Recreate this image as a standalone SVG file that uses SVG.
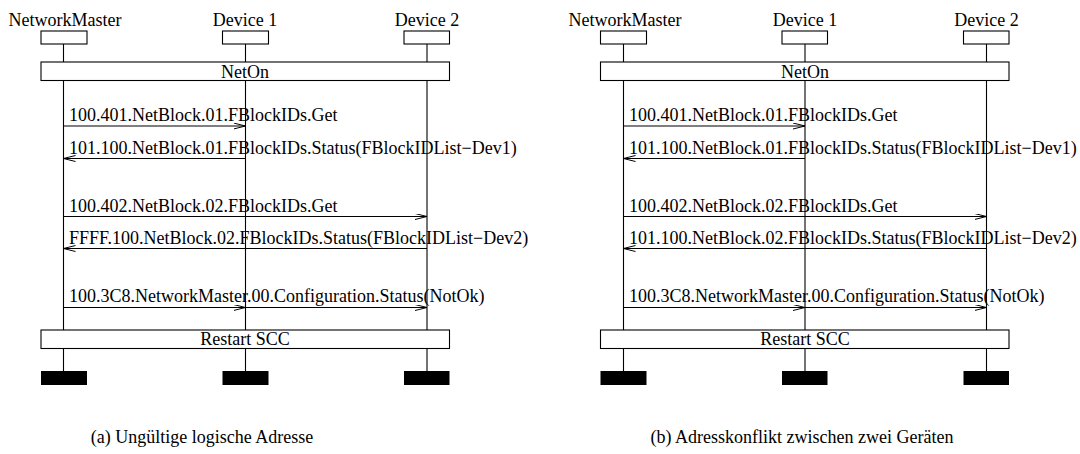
<svg xmlns="http://www.w3.org/2000/svg" width="1080" height="454" viewBox="0 0 1080 454">
<style>
  .lbl { font-family: "Liberation Serif", "Times New Roman", serif; font-size: 18px; fill: #000; }
  .mid { text-anchor: middle; }
  .cap { font-family: "Liberation Serif", "Times New Roman", serif; font-size: 18px; fill: #000; text-anchor: middle; }
  .head { fill: #fff; stroke: #000; stroke-width: 1.1; }
  .bar { fill: #fff; stroke: #000; stroke-width: 1.1; }
  .end { fill: #000; stroke: none; }
  .life { stroke: #000; stroke-width: 1.1; fill: none; }
  .msg { stroke: #000; stroke-width: 1.1; fill: none; marker-end: url(#arr); }
</style>
<defs>
  <marker id="arr" markerUnits="userSpaceOnUse" markerWidth="14" markerHeight="8" refX="12" refY="3" orient="auto">
    <path d="M0,0 L12,3 L0,6" fill="none" stroke="#000" stroke-width="1"/>
  </marker>
</defs>

<!-- ===== Diagram (a) ===== -->
<g id="diagram-a">
  <g id="a-lifelines">
    <line class="life" x1="63.5" y1="44" x2="63.5" y2="371"/>
    <line class="life" x1="245.5" y1="44" x2="245.5" y2="371"/>
    <line class="life" x1="427" y1="44" x2="427" y2="371"/>
  </g>
  <g id="a-networkmaster">
    <text class="lbl mid" x="65" y="25.5">NetworkMaster</text>
    <rect class="head" x="41" y="31" width="46" height="13"/>
    <rect class="end" x="41" y="371" width="46" height="14"/>
  </g>
  <g id="a-device1">
    <text class="lbl mid" x="245" y="25.5">Device 1</text>
    <rect class="head" x="222.5" y="31" width="46" height="13"/>
    <rect class="end" x="222.5" y="371" width="46" height="14"/>
  </g>
  <g id="a-device2">
    <text class="lbl mid" x="427" y="25.5">Device 2</text>
    <rect class="head" x="404" y="31" width="45.5" height="13"/>
    <rect class="end" x="404" y="371" width="45.5" height="14"/>
  </g>
  <g id="a-neton">
    <rect class="bar" x="41" y="62" width="408.5" height="18.5"/>
    <text class="lbl mid" x="245" y="77.5">NetOn</text>
  </g>
  <g id="a-restart">
    <rect class="bar" x="41" y="330" width="408.5" height="18.5"/>
    <text class="lbl mid" x="245" y="345">Restart SCC</text>
  </g>
  <g id="a-connectors">
    <line class="msg" x1="63.5" y1="126" x2="245.5" y2="126"/>
    <line class="msg" x1="245.5" y1="158.5" x2="63.5" y2="158.5"/>
    <line class="msg" x1="63.5" y1="216.5" x2="427" y2="216.5"/>
    <line class="msg" x1="427" y1="248.5" x2="63.5" y2="248.5"/>
    <line class="msg" x1="63.5" y1="307.5" x2="245.5" y2="307.5"/>
    <line class="msg" x1="63.5" y1="307.5" x2="427" y2="307.5"/>
  </g>
  <g id="a-labels">
    <text class="lbl" x="69" y="121">100.401.NetBlock.01.FBlockIDs.Get</text>
    <text class="lbl" x="69" y="153.5">101.100.NetBlock.01.FBlockIDs.Status(FBlockIDList−Dev1)</text>
    <text class="lbl" x="69" y="211.5">100.402.NetBlock.02.FBlockIDs.Get</text>
    <text class="lbl" x="69" y="243.5">FFFF.100.NetBlock.02.FBlockIDs.Status(FBlockIDList−Dev2)</text>
    <text class="lbl" x="69" y="302">100.3C8.NetworkMaster.00.Configuration.Status(NotOk)</text>
  </g>
</g>

<!-- ===== Diagram (b) ===== -->
<g id="diagram-b">
  <g id="b-lifelines">
    <line class="life" x1="623.5" y1="44" x2="623.5" y2="371"/>
    <line class="life" x1="805" y1="44" x2="805" y2="371"/>
    <line class="life" x1="986.5" y1="44" x2="986.5" y2="371"/>
  </g>
  <g id="b-networkmaster">
    <text class="lbl mid" x="625" y="25.5">NetworkMaster</text>
    <rect class="head" x="600.5" y="31" width="46" height="13"/>
    <rect class="end" x="600.5" y="371" width="46" height="14"/>
  </g>
  <g id="b-device1">
    <text class="lbl mid" x="805" y="25.5">Device 1</text>
    <rect class="head" x="782" y="31" width="45.5" height="13"/>
    <rect class="end" x="782" y="371" width="45.5" height="14"/>
  </g>
  <g id="b-device2">
    <text class="lbl mid" x="986.5" y="25.5">Device 2</text>
    <rect class="head" x="963.5" y="31" width="45.5" height="13"/>
    <rect class="end" x="963.5" y="371" width="45.5" height="14"/>
  </g>
  <g id="b-neton">
    <rect class="bar" x="600.5" y="62" width="408.5" height="18.5"/>
    <text class="lbl mid" x="805" y="77.5">NetOn</text>
  </g>
  <g id="b-restart">
    <rect class="bar" x="600.5" y="330" width="408.5" height="18.5"/>
    <text class="lbl mid" x="805" y="345">Restart SCC</text>
  </g>
  <g id="b-connectors">
    <line class="msg" x1="623.5" y1="126" x2="805" y2="126"/>
    <line class="msg" x1="805" y1="158.5" x2="623.5" y2="158.5"/>
    <line class="msg" x1="623.5" y1="216.5" x2="986.5" y2="216.5"/>
    <line class="msg" x1="986.5" y1="248.5" x2="623.5" y2="248.5"/>
    <line class="msg" x1="623.5" y1="307.5" x2="805" y2="307.5"/>
    <line class="msg" x1="623.5" y1="307.5" x2="986.5" y2="307.5"/>
  </g>
  <g id="b-labels">
    <text class="lbl" x="629" y="121">100.401.NetBlock.01.FBlockIDs.Get</text>
    <text class="lbl" x="629" y="153.5">101.100.NetBlock.01.FBlockIDs.Status(FBlockIDList−Dev1)</text>
    <text class="lbl" x="629" y="211.5">100.402.NetBlock.02.FBlockIDs.Get</text>
    <text class="lbl" x="629" y="243.5">101.100.NetBlock.02.FBlockIDs.Status(FBlockIDList−Dev2)</text>
    <text class="lbl" x="629" y="302">100.3C8.NetworkMaster.00.Configuration.Status(NotOk)</text>
  </g>
</g>

<!-- ===== Captions ===== -->
<g id="captions">
  <text class="cap" x="202" y="443">(a) Ungültige logische Adresse</text>
  <text class="cap" x="802" y="443">(b) Adresskonflikt zwischen zwei Geräten</text>
</g>
</svg>
